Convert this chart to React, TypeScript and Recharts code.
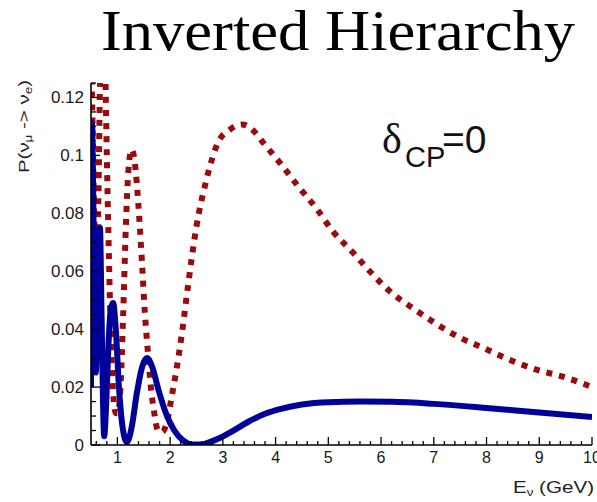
import React from 'react'
import { LineChart, Line, XAxis, YAxis } from 'recharts'

// neutrino energy (GeV) and appearance probability
const solidE = [
  0.5, 0.51, 0.52, 0.54, 0.565, 0.59, 0.62, 0.645, 0.67, 0.7, 0.75, 0.79, 0.83, 0.87, 0.92,
  0.97, 1.03, 1.1, 1.18, 1.27, 1.37, 1.47, 1.56, 1.66, 1.78, 1.92, 2.08, 2.25, 2.42, 2.58,
  2.75, 2.95, 3.2, 3.5, 3.8, 4.1, 4.5, 5.0, 5.6, 6.2, 7.0, 8.0, 9.0, 10.0,
]
const solidP = [
  0.02, 0.07, 0.111, 0.09, 0.05, 0.025, 0.045, 0.068, 0.075, 0.045, 0.003, 0.015, 0.034, 0.046, 0.049,
  0.04, 0.02, 0.006, 0.001, 0.006, 0.018, 0.027, 0.03, 0.027, 0.019, 0.011, 0.005, 0.0015, 0.0002, 0.0002,
  0.001, 0.0025, 0.005, 0.0082, 0.0108, 0.0125, 0.014, 0.0148, 0.015, 0.0149, 0.0142, 0.0128, 0.0112, 0.0097,
]

const dottedE = [
  0.5, 0.53, 0.56, 0.6, 0.64, 0.67, 0.72, 0.77, 0.8, 0.84, 0.88, 0.92, 0.97, 1.01, 1.06,
  1.11, 1.16, 1.21, 1.27, 1.32, 1.37, 1.42, 1.47, 1.52, 1.57, 1.63, 1.7, 1.77, 1.85, 1.94,
  2.03, 2.12, 2.22, 2.34, 2.5, 2.69, 2.91, 3.14, 3.36, 3.61, 3.76, 4.08, 4.43, 4.79, 5.09,
  5.45, 5.79, 6.17, 6.59, 6.98, 7.46, 7.93, 8.44, 8.95, 9.52, 10.0,
]
const dottedP = [
  0.14, 0.11, 0.08, 0.06, 0.085, 0.125, 0.16, 0.13, 0.1, 0.065, 0.035, 0.018, 0.011, 0.011, 0.02,
  0.045, 0.075, 0.095, 0.102, 0.099, 0.09, 0.077, 0.062, 0.046, 0.034, 0.021, 0.011, 0.005, 0.0045, 0.008,
  0.0167, 0.026, 0.038, 0.055, 0.0755, 0.0917, 0.1045, 0.109, 0.1107, 0.108, 0.1045, 0.0975, 0.0893, 0.0813, 0.0737,
  0.0668, 0.0599, 0.053, 0.0474, 0.0426, 0.0374, 0.0336, 0.0294, 0.026, 0.0232, 0.02,
]

const xLabels = [1, 2, 3, 4, 5, 6, 7, 8, 9, 10]
const yLabels = [0, 0.02, 0.04, 0.06, 0.08, 0.1, 0.12]

const xTicks = Array.from({ length: 48 }, (_, i) => +(0.6 + i * 0.2).toFixed(1))
const yTicks = Array.from({ length: 26 }, (_, i) => +(i * 0.005).toFixed(3))

const solidData = solidE.map((e, i) => ({ e, p: solidP[i] }))
const dottedData = dottedE.map((e, i) => ({ e, p: dottedP[i] }))

const sans = '"Liberation Sans", Arial, sans-serif'
const serif = '"Liberation Serif", "Times New Roman", serif'

const isX = (v: number) => xLabels.some((l) => Math.abs(l - v) < 1e-6)
const isY = (v: number) => yLabels.some((l) => Math.abs(l - v) < 1e-6)

function BottomTick({ x, y, payload }: any) {
  const major = isX(payload.value)
  return (
    <g>
      <line x1={x} x2={x} y1={y} y2={y - (major ? 8 : 4)} stroke="#000" strokeWidth={1.3} />
      {major && (
        <text x={x} y={y + 18} textAnchor="middle" fontSize={16} fontFamily={sans} fill="#1a1a1a">
          {payload.value}
        </text>
      )}
    </g>
  )
}

function TopTick({ x, y, payload }: any) {
  const major = isX(payload.value)
  return <line x1={x} x2={x} y1={y} y2={y + (major ? 8 : 4)} stroke="#000" strokeWidth={1.3} />
}

function LeftTick({ x, y, payload }: any) {
  const major = isY(payload.value)
  return (
    <g>
      <line x1={x} x2={x + (major ? 9 : 5)} y1={y} y2={y} stroke="#000" strokeWidth={1.3} />
      {major && (
        <text x={x - 7} y={y + 6} textAnchor="end" fontSize={17} fontFamily={sans} fill="#1a1a1a">
          {+payload.value.toFixed(2)}
        </text>
      )}
    </g>
  )
}

function RightTick({ x, y, payload }: any) {
  const major = isY(payload.value)
  return <line x1={x} x2={x - (major ? 7 : 4)} y1={y} y2={y} stroke="#000" strokeWidth={1.3} />
}

export default function App() {
  const axisLine = { stroke: '#000', strokeWidth: 1.6 }
  return (
    <div style={{ position: 'absolute', left: 0, top: 0, width: 597, height: 502, background: '#fff' }}>
      <LineChart width={597} height={502} margin={{ top: 83, right: 5, bottom: 0, left: 0 }}>
        <XAxis
          xAxisId="b"
          dataKey="e"
          type="number"
          domain={[0.5, 10]}
          allowDataOverflow
          ticks={xTicks}
          interval={0}
          tick={<BottomTick />}
          tickLine={false}
          tickSize={0}
          tickMargin={0}
          axisLine={axisLine}
          height={57}
        />
        <XAxis
          xAxisId="t"
          orientation="top"
          dataKey="e"
          type="number"
          domain={[0.5, 10]}
          allowDataOverflow
          ticks={xTicks}
          interval={0}
          tick={<TopTick />}
          tickLine={false}
          tickSize={0}
          tickMargin={0}
          axisLine={axisLine}
          height={0}
        />
        <YAxis
          yAxisId="l"
          type="number"
          domain={[0, 0.125]}
          allowDataOverflow
          ticks={yTicks}
          interval={0}
          tick={<LeftTick />}
          tickLine={false}
          tickSize={0}
          tickMargin={0}
          axisLine={axisLine}
          width={91}
        />
        <YAxis
          yAxisId="r"
          orientation="right"
          type="number"
          domain={[0, 0.125]}
          allowDataOverflow
          ticks={yTicks}
          interval={0}
          tick={<RightTick />}
          tickLine={false}
          tickSize={0}
          tickMargin={0}
          axisLine={axisLine}
          width={0}
        />
        <Line
          xAxisId="b"
          yAxisId="l"
          data={dottedData}
          dataKey="p"
          type="monotone"
          stroke="#9a0c0c"
          strokeWidth={6}
          strokeDasharray="6 7"
          dot={false}
          isAnimationActive={false}
        />
        <Line
          xAxisId="b"
          yAxisId="l"
          data={solidData}
          dataKey="p"
          type="monotone"
          stroke="#000099"
          strokeWidth={6}
          dot={false}
          isAnimationActive={false}
        />
      </LineChart>
      <svg
        width={597}
        height={502}
        style={{ position: 'absolute', left: 0, top: 0, pointerEvents: 'none' }}
      >
        <text x={101} y={50} fontFamily={serif} fontSize={56} textLength={474} lengthAdjust="spacingAndGlyphs" fill="#000">
          Inverted Hierarchy
        </text>
        <text x={382} y={153} fontFamily={serif} fontSize={42} fill="#111">δ</text>
        <text x={405} y={167} fontFamily={sans} fontSize={29} fill="#111">CP</text>
        <text x={442} y={153} fontFamily={sans} fontSize={39} fill="#111">=0</text>
        <text
          transform="translate(29,173) rotate(-90)"
          fontFamily={sans}
          fontSize={15}
          fill="#222"
          textLength={93}
          lengthAdjust="spacingAndGlyphs"
        >
          P(ν<tspan fontSize={10} dy={3}>μ</tspan>
          <tspan dy={-3}> -&gt; ν</tspan>
          <tspan fontSize={10} dy={3}>e</tspan>
          <tspan dy={-3}>)</tspan>
        </text>
        <text
          x={513}
          y={493}
          fontFamily={sans}
          fontSize={17}
          fill="#222"
          textLength={81}
          lengthAdjust="spacingAndGlyphs"
        >
          E<tspan fontSize={11} dy={3}>ν</tspan>
          <tspan dy={-3}> (GeV)</tspan>
        </text>
      </svg>
    </div>
  )
}
